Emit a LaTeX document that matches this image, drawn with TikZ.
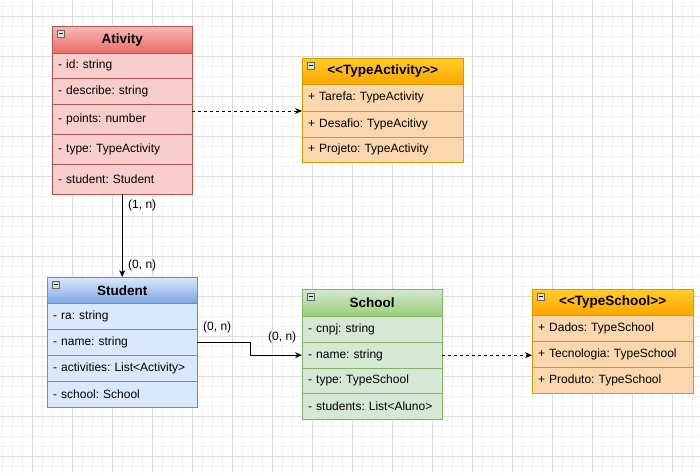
\documentclass[tikz,border=0pt]{standalone}
\usepackage{fontspec}
\setmainfont{Liberation Sans}[Ligatures=TeXOff]
\usetikzlibrary{arrows.meta,calc}
\definecolor{gridminor}{HTML}{F2F2F2}
\definecolor{gridmajor}{HTML}{DCDCDC}
\definecolor{redfill}{HTML}{F8CECC}
\definecolor{redgrad}{HTML}{EA6B66}
\definecolor{redline}{HTML}{B85450}
\definecolor{orafill}{HTML}{FFCD28}
\definecolor{oragrad}{HTML}{FFA500}
\definecolor{orabody}{HTML}{FAD7AC}
\definecolor{oraline}{HTML}{D79B00}
\definecolor{bluefill}{HTML}{DAE8FC}
\definecolor{bluegrad}{HTML}{7EA6E0}
\definecolor{blueline}{HTML}{6C8EBF}
\definecolor{greenfill}{HTML}{D5E8D4}
\definecolor{greengrad}{HTML}{97D077}
\definecolor{greenline}{HTML}{82B366}
\tikzset{
  hdr/.style={anchor=north west, inner sep=0pt, font=\bfseries\fontsize{13.5}{15}\selectfont, align=center},
  row/.style={anchor=north west, inner xsep=6pt, inner ysep=0pt, align=left, font=\fontsize{12}{14}\selectfont},
  lbl/.style={anchor=west, inner sep=0pt, font=\fontsize{12}{14}\selectfont},
  w140/.style={minimum width=140pt, text width=128pt},
  w150/.style={minimum width=150pt, text width=138pt},
  w161/.style={minimum width=161pt, text width=149pt},
  redhdr/.style={draw=redline, top color=redfill!80!redgrad, bottom color=redgrad},
  redrow/.style={draw=redline, fill=redfill},
  orahdr/.style={draw=oraline, top color=orafill, bottom color=oragrad},
  orarow/.style={draw=oraline, fill=orabody},
  bluehdr/.style={draw=blueline, top color=bluefill, bottom color=bluegrad},
  bluerow/.style={draw=blueline, fill=bluefill},
  greenhdr/.style={draw=greenline, top color=greenfill, bottom color=greengrad},
  greenrow/.style={draw=greenline, fill=greenfill},
  conn/.style={draw=black, line width=0.9pt, -{Stealth[length=7pt,width=6pt]}},
  dashconn/.style={conn, dash pattern=on 3pt off 3pt},
  mini/.style={draw=gray!80!black, fill=gray!25, line width=0.5pt},
}
\newcommand{\minusicon}[1]{%
  \draw[mini] ($(#1.north west)+(5,4)$) rectangle ++(7,7);
  \draw[line width=0.8pt] ($(#1.north west)+(6.5,7.5)$) -- ++(4,0);
}
\begin{document}
\frenchspacing
\begin{tikzpicture}[x=1pt,y=-1pt]
\useasboundingbox (0,0) rectangle (700,473);
\fill[white] (0,0) rectangle (700,473);
\foreach \k in {0,...,69} \draw[gridminor, line width=0.5pt] (2+10*\k,0) -- (2+10*\k,473);
\foreach \k in {0,...,47} \draw[gridminor, line width=0.5pt] (0,6+10*\k) -- (700,6+10*\k);
\foreach \k in {0,...,17} \draw[gridmajor, line width=0.6pt] (32+40*\k,0) -- (32+40*\k,473);
\foreach \k in {0,...,11} \draw[gridmajor, line width=0.6pt] (0,16+40*\k) -- (700,16+40*\k);

% Ativity
\node[hdr, w140, redhdr, minimum height=27pt] (ahdr) at (52,26) {Ativity};
\node[row, w140, redrow, minimum height=25pt] (aid) at (52,53) {- id: string};
\node[row, w140, redrow, minimum height=26pt] (adesc) at (52,78) {- describe: string};
\node[row, w140, redrow, minimum height=30pt] (apoints) at (52,104) {- points: number};
\node[row, w140, redrow, minimum height=30pt] (atype) at (52,134) {- type: TypeActivity};
\node[row, w140, redrow, minimum height=30pt] (astudent) at (52,164) {- student: Student};
\minusicon{ahdr}

% TypeActivity
\node[hdr, w161, orahdr, minimum height=26pt] (tahdr) at (302,58) {<<TypeActivity>>};
\node[row, w161, orarow, minimum height=27pt] (tatarefa) at (302,84) {+ Tarefa: TypeActivity};
\node[row, w161, orarow, minimum height=26pt] (tadesafio) at (302,111) {+ Desafio: TypeAcitivy};
\node[row, w161, orarow, minimum height=25pt] (taprojeto) at (302,137) {+ Projeto: TypeActivity};
\minusicon{tahdr}

% Student
\node[hdr, w150, bluehdr, minimum height=26pt] (shdr) at (47,277) {Student};
\node[row, w150, bluerow, minimum height=26pt] (sra) at (47,303) {- ra: string};
\node[row, w150, bluerow, minimum height=26pt] (sname) at (47,329) {- name: string};
\node[row, w150, bluerow, minimum height=26pt] (sact) at (47,355) {- activities: List<Activity>};
\node[row, w150, bluerow, minimum height=26pt] (sschool) at (47,381) {- school: School};
\minusicon{shdr}

% School
\node[hdr, w140, greenhdr, minimum height=27pt] (chdr) at (302,289) {School};
\node[row, w140, greenrow, minimum height=26pt] (ccnpj) at (302,316) {- cnpj: string};
\node[row, w140, greenrow, minimum height=26pt] (cname) at (302,342) {- name: string};
\node[row, w140, greenrow, minimum height=25pt] (ctype) at (302,368) {- type: TypeSchool};
\node[row, w140, greenrow, minimum height=26pt] (cstudents) at (302,393) {- students: List<Aluno>};
\minusicon{chdr}

% TypeSchool
\node[hdr, w161, orahdr, minimum height=26pt] (tshdr) at (532,289) {<<TypeSchool>>};
\node[row, w161, orarow, minimum height=26pt] (tsdados) at (532,315) {+ Dados: TypeSchool};
\node[row, w161, orarow, minimum height=26pt] (tstec) at (532,341) {+ Tecnologia: TypeSchool};
\node[row, w161, orarow, minimum height=26pt] (tsprod) at (532,367) {+ Produto: TypeSchool};
\minusicon{tshdr}

% connectors
\draw[conn] (astudent.south) -- (shdr.north);
\draw[dashconn] (apoints.east |- tadesafio.north west) -- (tadesafio.north west);
\draw[conn] (sname.east) -- ++(53,0) |- (cname.west);
\draw[dashconn] (cname.east) -- (cname.east -| tstec.west);

% labels
\node[lbl] (l1) at (128,205) {(1, n)};
\node[lbl] (l2) at (128,265) {(0, n)};
\node[lbl] (l3) at (203,327) {(0, n)};
\node[lbl] (l4) at (268,337) {(0, n)};
\end{tikzpicture}
\end{document}
